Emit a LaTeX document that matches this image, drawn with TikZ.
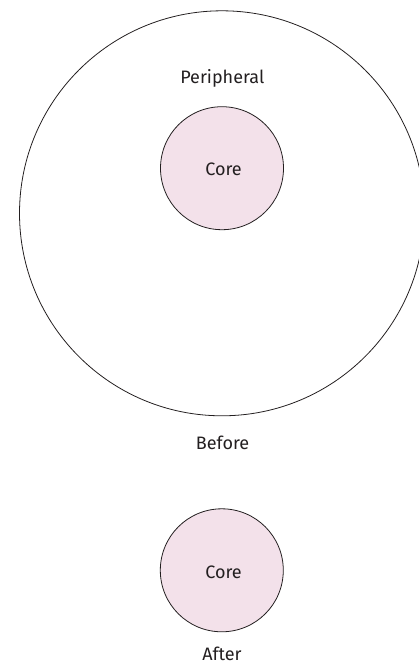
\documentclass[tikz,border=0pt]{standalone}
\usepackage{fontspec}
\setmainfont{Fira Sans}
\definecolor{corefill}{HTML}{F3E1EA}
\definecolor{ink}{HTML}{231F20}
\begin{document}
\begin{tikzpicture}[x=1pt,y=-1pt,
  ring/.style={circle,draw=ink,line width=0.8pt,inner sep=0pt},
  corecircle/.style={ring,fill=corefill,minimum size=123pt},
  lbl/.style={text=ink,font=\fontsize{18}{21}\selectfont,inner sep=0pt,anchor=base}]
\useasboundingbox (0,0) rectangle (418,664);
\node[ring,minimum size=405pt] (outer) at (222,213.3) {};
\node[corecircle] (core1) at (222,168.2) {};
\node[lbl] (core1t) at (223.5,175.6) {Core};
\node[lbl] (periph) at (222.3,83) {Peripheral};
\node[lbl] (before) at (222.6,449) {Before};
\node[corecircle] (core2) at (221.8,570.3) {};
\node[lbl] (core2t) at (223.5,578) {Core};
\node[lbl] (after) at (222,660.5) {After};
\end{tikzpicture}
\end{document}
